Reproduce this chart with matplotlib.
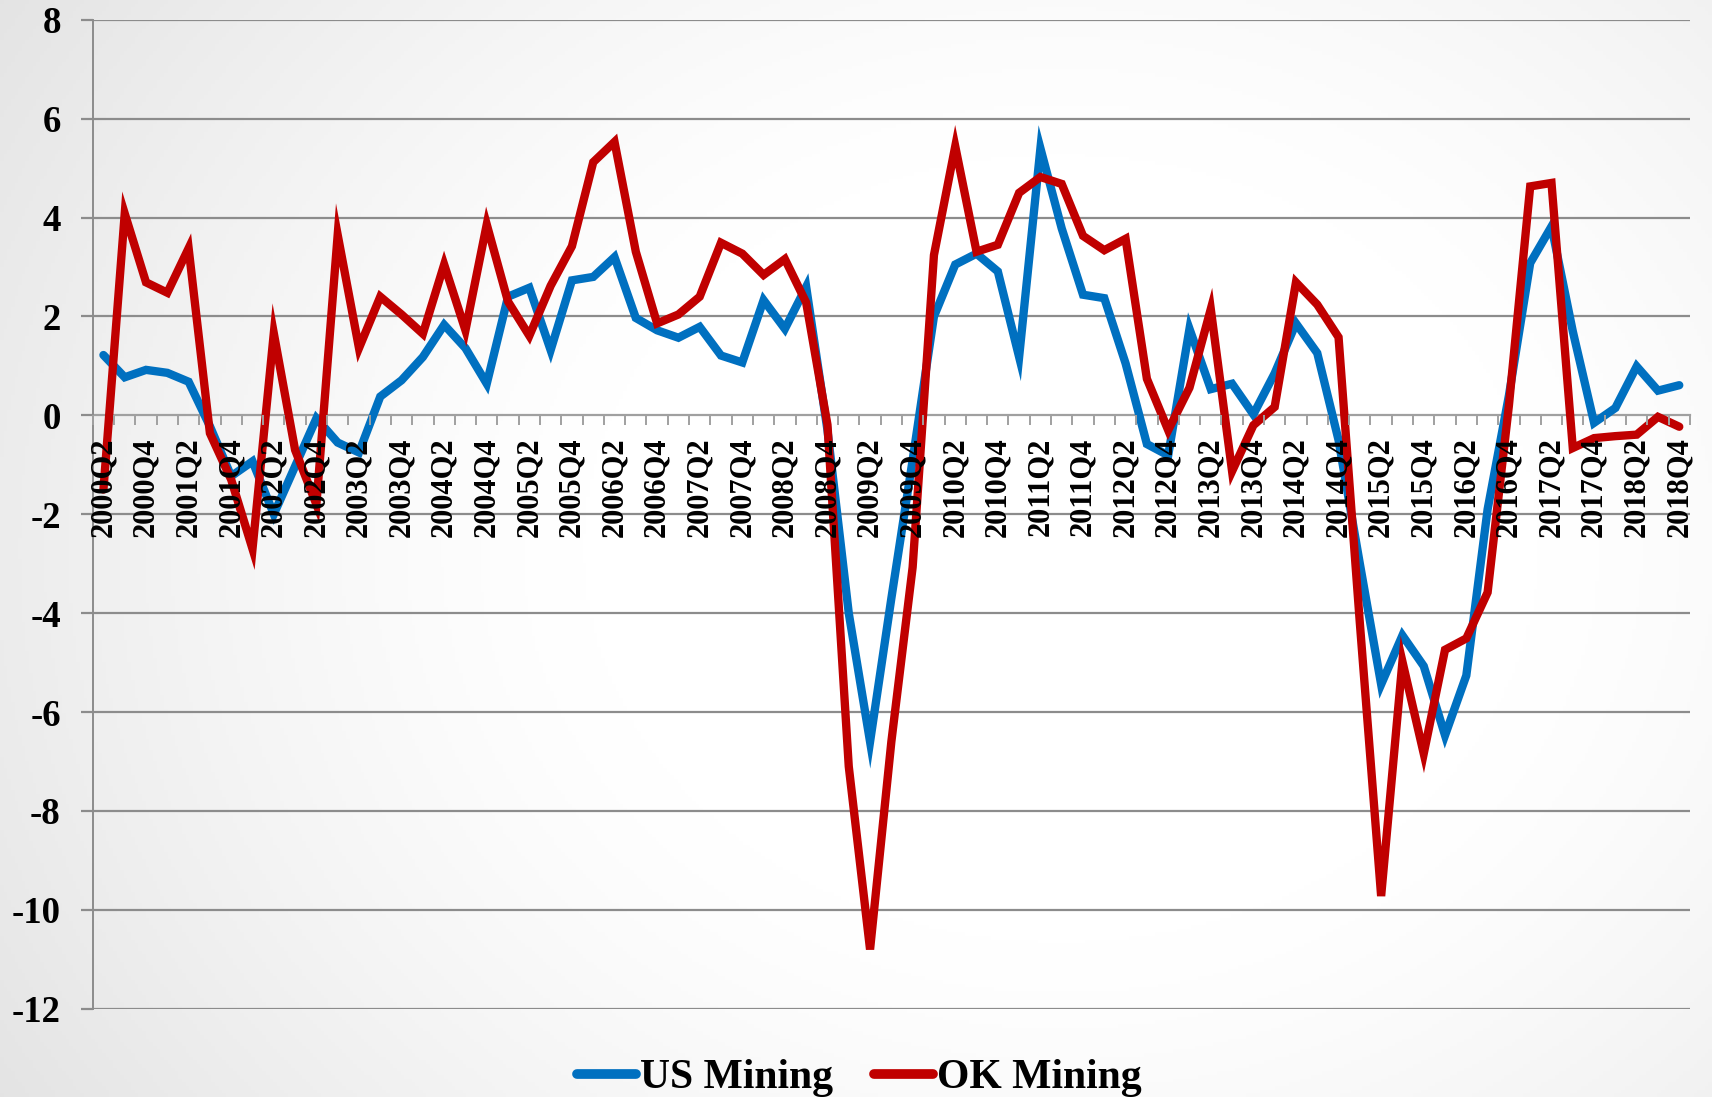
import numpy as np
import matplotlib
matplotlib.use("Agg")
import matplotlib.pyplot as plt
from matplotlib.lines import Line2D

quarters = [f"{y}Q{q}" for y in range(2000, 2019) for q in range(1, 5)][1:]
us_mining = [1.22, 0.77, 0.92, 0.86, 0.68, -0.22, -1.23, -0.93, -2.0, -1.03,
             -0.06, -0.55, -0.75, 0.38, 0.71, 1.18, 1.83, 1.36, 0.64, 2.4,
             2.58, 1.32, 2.73, 2.8, 3.2, 1.97, 1.72, 1.57, 1.79, 1.21,
             1.07, 2.33, 1.75, 2.6, -0.3, -4.0, -6.6, -3.7, -0.9, 2.0,
             3.05, 3.27, 2.91, 1.18, 5.4, 3.78, 2.44, 2.37, 1.05, -0.58,
             -0.81, 1.75, 0.53, 0.64, 0.02, 0.85, 1.86, 1.26, -0.5, -3.0,
             -5.44, -4.45, -5.07, -6.47, -5.26, -1.9, 0.4, 3.08, 3.82, 1.7,
             -0.15, 0.15, 0.99, 0.5, 0.61]
ok_mining = [-1.5, 4.08, 2.69, 2.48, 3.38, -0.36, -1.3, -2.7, 1.66, -0.7,
             -1.8, 3.65, 1.36, 2.4, 2.04, 1.65, 3.05, 1.72, 3.86, 2.3,
             1.61, 2.62, 3.42, 5.12, 5.53, 3.31, 1.86, 2.04, 2.4, 3.49,
             3.27, 2.84, 3.16, 2.28, -0.19, -7.1, -10.8, -6.6, -3.07, 3.24,
             5.44, 3.31, 3.45, 4.5, 4.82, 4.68, 3.63, 3.34, 3.57, 0.74,
             -0.3, 0.56, 2.15, -1.13, -0.2, 0.17, 2.69, 2.24, 1.58, -4.2,
             -9.72, -4.98, -6.84, -4.74, -4.51, -3.58, 0.2, 4.63, 4.7, -0.66,
             -0.46, -0.42, -0.39, -0.03, -0.23]
y_ticks = [-12, -10, -8, -6, -4, -2, 0, 2, 4, 6, 8]

plt.rcParams['font.family'] = ['Liberation Serif', 'DejaVu Serif']
plt.rcParams['font.weight'] = 'bold'

W, H = 1712, 1097
fig = plt.figure(figsize=(W / 100, H / 100), dpi=100)

# radial gradient background
bg = fig.add_axes([0, 0, 1, 1], zorder=-10)
yy, xx = np.mgrid[0:1:300j, 0:1:470j]
d = np.sqrt(((xx - 0.62) / 0.62) ** 2 + ((yy - 0.5) / 0.8) ** 2)
g = 1.0 - 0.16 * np.clip(d - 0.45, 0, None) ** 1.3
g = np.clip(g, 0, 1)
bg.imshow(np.dstack([g, g, g]), extent=[0, 1, 0, 1], aspect='auto', origin='lower')
bg.axis('off')

ax = fig.add_axes([0.0542, 0.0804, 0.9329, 0.9016])
ax.patch.set_alpha(0)
x = np.arange(len(quarters))
grid_c = '#8c8c8c'
for yv in y_ticks:
    if yv != 0:
        ax.axhline(yv, color=grid_c, lw=1.6, zorder=1)

ax.plot(x, us_mining, color='#0070C0', lw=6.0, zorder=3, solid_joinstyle='miter',
        solid_capstyle='round', label='US Mining')
ax.plot(x, ok_mining, color='#C00000', lw=6.0, zorder=4, solid_joinstyle='miter',
        solid_capstyle='round', label='OK Mining')

ax.set_xlim(-0.5, len(quarters) - 0.5)
ax.set_ylim(-12, 8)

ax.tick_params(axis='y', length=9, width=1.6, color=grid_c, pad=14,
               labelsize=26, direction='out')
ax.tick_params(axis='x', which='major', length=0, pad=16, labelsize=22, labelrotation=90)
ax.tick_params(axis='x', which='minor', length=7, width=1.4, color='#a0a0a0', direction='out')

ax.set_yticks(y_ticks)
ax.set_yticklabels([str(v) for v in y_ticks], fontsize=26.5, fontweight='bold')
ax.set_xticks(np.arange(-0.5, len(quarters), 1), minor=True)
ax.set_xticks(x[::2])
ax.set_xticklabels(quarters[::2], rotation=90, fontsize=22.5, fontweight='bold', va='top')

ax.spines['bottom'].set_position(('data', 0))
ax.spines['bottom'].set_color('#a0a0a0')
ax.spines['bottom'].set_linewidth(1.6)
ax.spines['left'].set_color(grid_c)
ax.spines['left'].set_linewidth(1.4)
ax.spines['top'].set_visible(False)
ax.spines['right'].set_visible(False)
ax.xaxis.set_zorder(6)
ax.spines['bottom'].set_zorder(2)

handles = [Line2D([], [], color='#0070C0', lw=7, solid_capstyle='round'),
           Line2D([], [], color='#C00000', lw=7, solid_capstyle='round')]
fig.legend(handles, ['US Mining', 'OK Mining'], loc='center', bbox_to_anchor=(0.502, 0.017),
           ncol=2, frameon=False, handlelength=1.4, handletextpad=0.1,
           columnspacing=1.0, prop={'family': 'Liberation Serif', 'weight': 'bold', 'size': 30})

fig.savefig('out.png', dpi=100)
